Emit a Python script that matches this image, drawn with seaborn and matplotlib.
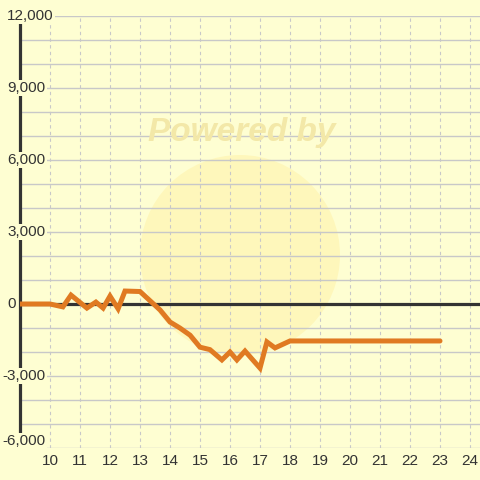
import matplotlib
matplotlib.use("Agg")
import matplotlib.pyplot as plt
import matplotlib.transforms as mtransforms
from matplotlib.patches import Circle
import pandas as pd
import seaborn as sns

# データ
hours = [9.0, 10.0, 10.43, 10.7, 11.23, 11.53, 11.77, 12.0, 12.27, 12.5, 13.0,
         13.67, 14.0, 14.33, 14.67, 15.0, 15.33, 15.73, 16.0, 16.23, 16.5,
         17.0, 17.23, 17.5, 18.0, 23.0]
values = [0, 0, -120, 370, -170, 80, -170, 330, -200, 540, 520,
          -250, -750, -1000, -1300, -1800, -1900, -2330, -2000, -2330, -1960,
          -2670, -1580, -1830, -1540, -1540]
y_ticks = [12000, 9000, 6000, 3000, 0, -3000, -6000]
y_labels = ["12,000", "9,000", "6,000", "3,000", "0", "-3,000", "-6,000"]
x_ticks = list(range(10, 25))

bg = "#FEFED2"
sns.set_style("white")
plt.rcParams["font.family"] = ["Liberation Sans", "DejaVu Sans"]

fig = plt.figure(figsize=(4.8, 4.8), dpi=100, facecolor=bg)
ax = fig.add_axes([20 / 480, 32 / 480, 460 / 480, 432 / 480])
ax.set_facecolor(bg)
ax.set_xlim(9, 9 + 460 / 30)
ax.set_ylim(-6000, 12000)

# 透かし
ax.add_patch(Circle((240, 225), 100, transform=None, facecolor="#FFF0A0",
                    edgecolor="none", alpha=0.45, zorder=0.5))
fig.text(242 / 480, 1 - 133 / 480, "Powered by", ha="center", va="center",
         fontsize=24, fontweight="bold", style="italic", color="#F3E8A8",
         zorder=0.6)

# グリッド
for v in range(-6000, 12001, 1000):
    ax.axhline(v, color="#C8C8C8", lw=1, zorder=1)
for x in x_ticks:
    ax.axvline(x, color="#C8C8C8", lw=0.8, ls=(0, (3, 3)), zorder=1)
ax.axhline(0, color="#333333", lw=2.3, zorder=2)

df = pd.DataFrame({"hour": hours, "value": values})
sns.lineplot(data=df, x="hour", y="value", color="#E07A22", lw=3.6, ax=ax,
             zorder=3, solid_joinstyle="miter")

for s in ["top", "right", "bottom"]:
    ax.spines[s].set_visible(False)
ax.spines["left"].set_color("#333333")
ax.spines["left"].set_linewidth(2.3)
ax.spines["left"].set_zorder(2.5)
ax.spines["left"].set_bounds(-5600, 12000)

ax.set_xticks(x_ticks)
ax.set_xticklabels([str(x) for x in x_ticks])
ax.tick_params(axis="x", length=0, pad=4, labelsize=11, labelcolor="#333333")
ax.set_yticks([])
ax.set_xlabel("")
ax.set_ylabel("")

# Y軸ラベル（背景付き）
trans = mtransforms.blended_transform_factory(fig.transFigure, ax.transData)
for v, lab in zip(y_ticks, y_labels):
    px = 2.5 if lab.startswith("-") else 7
    offset = mtransforms.ScaledTranslation(0, 7 / 100 if v == -6000 else 0,
                                           fig.dpi_scale_trans)
    ax.text(px / 480, v, lab, transform=trans + offset, ha="left",
            va="center", fontsize=11, color="#333333", zorder=4,
            clip_on=False, bbox=dict(facecolor=bg, edgecolor="none", pad=1.0))

fig.savefig("out.png", dpi=100, facecolor=bg)
